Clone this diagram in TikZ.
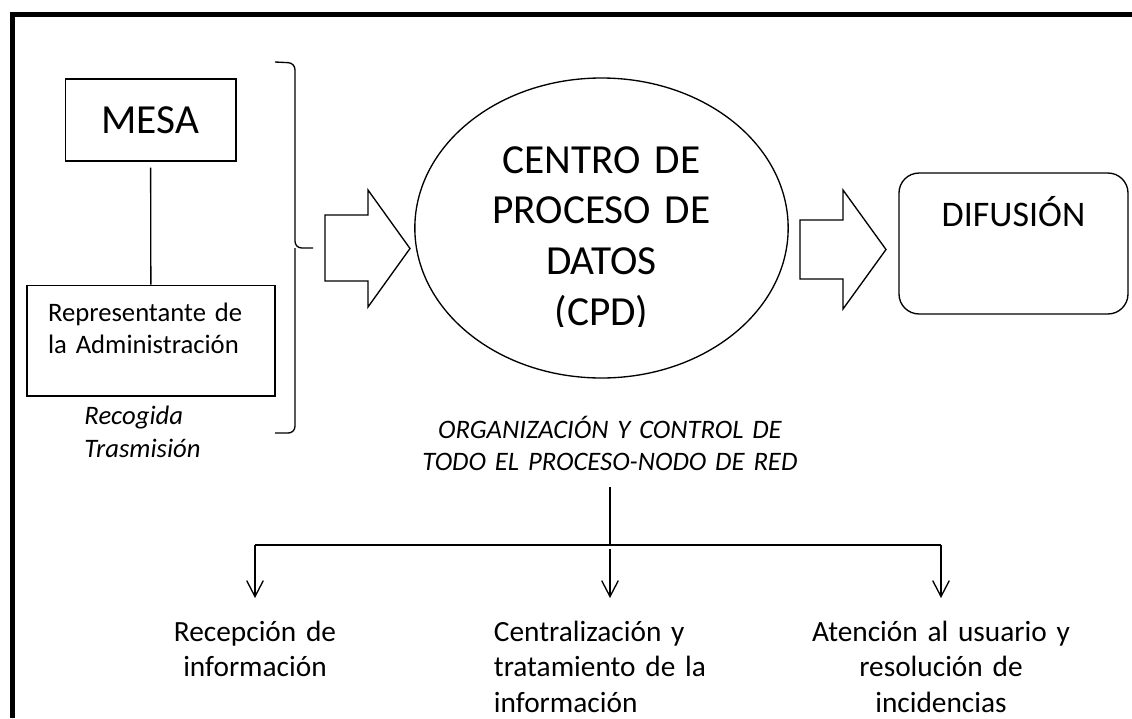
\documentclass[tikz,border=0pt]{standalone}
\usepackage{fontspec}
\setmainfont{Carlito}
\usetikzlibrary{shapes.geometric, arrows.meta, positioning, calc}

\begin{document}
\begin{tikzpicture}[x=0.75pt, y=-0.75pt, line width=1pt]
    % Styles
    \tikzstyle{box} = [rectangle, draw, line width=1pt, inner sep=0pt]
    \tikzstyle{cpd} = [ellipse, draw, line width=1pt, inner sep=0pt, align=center, text width=180pt,
                      minimum width=280pt, minimum height=225pt,
                      text height=30pt, text depth=112.5pt, font=\fontsize{31}{38}\selectfont]
    \tikzstyle{bigarrow} = [draw, line width=1pt, fill=white, line join=miter]
    \tikzstyle{note} = [align=left, font=\fontsize{20}{25}\selectfont\itshape]
    \tikzstyle{task} = [align=center, anchor=north, inner sep=0pt, text height=32pt,
                       font=\fontsize{22}{26.5}\selectfont]
    \tikzstyle{down} = [-{Straight Barb[length=12pt, width=12.5pt]}]

    \path[fill=white, use as bounding box] (0,0) rectangle (1132,718);
    % Frame
    \draw[line width=3.5pt] (12.5,718) -- (12.5,14.5) -- (1132,14.5);

    % Nodes
    \node[box, minimum width=128pt, minimum height=61.5pt, font=\fontsize{31}{37}\selectfont] (mesa) at (150.5,120) {MESA};
    \node[box, align=left, text width=154.5pt, inner xsep=15.75pt, text height=27pt, text depth=56pt,
          font=\fontsize{20}{24}\selectfont] (repre) at (151,340.5) {Representante de\\la Administración};
    \node[note] (recogida) at (142.5,431.5) {Recogida\\Trasmisión};
    \node[cpd] (cpd) at (601.5,228) {CENTRO DE\\PROCESO DE\\DATOS\\(CPD)};
    % text box of the ellipse cuts the last line
    \fill[white] (550,327) rectangle (655,345);
    \node[box, rounded corners=15pt, minimum width=171.75pt, text height=40.2pt, text depth=65.5pt,
          font=\fontsize{27}{32}\selectfont] (difusion) at (1013.5,243.5) {DIFUSIÓN};
    \node[note, align=center, text width=310pt, anchor=south, inner sep=0pt, text depth=36pt,
          font=\fontsize{20}{24}\selectfont\itshape] (org) at (610,487) {ORGANIZACIÓN Y CONTROL DE\\TODO EL PROCESO-NODO DE RED};
    \coordinate (split) at (610,545);
    \node[task, text width=150pt] (recepcion) at (255,598) {Recepción de\\información};
    \node[task, text width=170pt, align=left] (central) at (607.3,598) {Centralización y\\tratamiento de la\\información};
    \node[task, text width=220pt] (atencion) at (941,598) {Atención al usuario y\\resolución de\\incidencias};

    % Connections
    \draw[shorten <=4.5pt] (mesa) -- (repre);
    \draw[rounded corners=5pt] (275,62) -- (295,63) -- (295,248) -- (313,248);
    \draw[rounded corners=5pt] (295,248) -- (295,433) -- (275,433);
    \draw[bigarrow] (325,215) -- (368,215) -- (368,190) -- (410,248.5) -- (368,307) -- (368,281) -- (325,281) -- cycle;
    \draw[bigarrow] (800,220) -- (843,220) -- (843,190) -- (886,249.5) -- (843,309) -- (843,279) -- (800,279) -- cycle;
    \draw (org) -- (split);
    \draw (split -| recepcion) -- (split -| atencion);
    \draw[down] (split -| recepcion) -- (recepcion);
    \draw[down, shorten <=3pt] (split) -- (split |- central.north);
    \draw[down] (split -| atencion) -- (atencion);
\end{tikzpicture}
\end{document}
